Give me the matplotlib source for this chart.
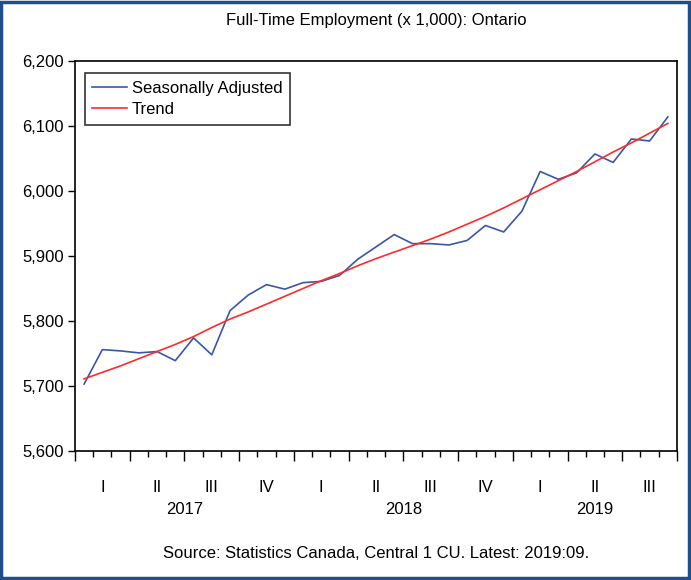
import numpy as np
import matplotlib
matplotlib.use("Agg")
import matplotlib.pyplot as plt
from matplotlib.patches import Rectangle
import matplotlib.transforms as mtransforms

plt.rcParams['font.family'] = ['Liberation Sans', 'DejaVu Sans']

# monthly data, Jan 2017 .. Sep 2019
seasonally_adjusted = [5703, 5756, 5754, 5751, 5753, 5739, 5774, 5748, 5816, 5840,
                       5856, 5849, 5859, 5861, 5870, 5895, 5914, 5933, 5919, 5919,
                       5917, 5924, 5947, 5937, 5969, 6030, 6018, 6028, 6057, 6044,
                       6080, 6077, 6114]
trend = [5711, 5721, 5731, 5742, 5753, 5764, 5776, 5790, 5803, 5814,
         5826, 5838, 5850, 5862, 5873, 5885, 5896, 5906, 5916, 5926,
         5937, 5949, 5961, 5974, 5988, 6002, 6016, 6030, 6045, 6060,
         6074, 6089, 6104]
quarter_labels = ['I', 'II', 'III', 'IV', 'I', 'II', 'III', 'IV', 'I', 'II', 'III']
years = ['2017', '2018', '2019']
months_per_year = [12, 12, 9]

x = np.arange(len(seasonally_adjusted))

fig = plt.figure(figsize=(6.91, 5.80), dpi=100)
ax = fig.add_axes([0.1085, 0.2224, 0.8712, 0.6724])

ax.plot(x, seasonally_adjusted, color='#3a56a8', lw=1.2, label='Seasonally Adjusted')
ax.plot(x, trend, color='#ff2a2a', lw=1.2, label='Trend')

ax.set_xlim(-0.5, len(x) - 0.5)
ax.set_ylim(5600, 6200)
ax.set_yticks(np.arange(5600, 6201, 100))
ax.set_yticklabels([f'{v:,}' for v in range(5600, 6201, 100)], fontsize=12)

ax.set_xticks(np.arange(-0.5, len(x), 3))
ax.set_xticks(np.arange(-0.5, len(x), 1), minor=True)
ax.set_xticklabels([])
ax.tick_params(axis='x', which='major', length=7, width=1, direction='out')
ax.tick_params(axis='x', which='minor', length=4, width=1, direction='out')
ax.tick_params(axis='y', length=5, width=1, direction='out', pad=3)
for s in ax.spines.values():
    s.set_linewidth(1.2)

trans = mtransforms.blended_transform_factory(ax.transData, fig.transFigure)
for i, q in enumerate(quarter_labels):
    ax.text(i * 3 + 1, 1 - 488 / 580, q, transform=trans, ha='center', va='center',
            fontsize=12)
start = 0
for yr, n in zip(years, months_per_year):
    ax.text(start + (n - 1) / 2, 1 - 509 / 580, yr, transform=trans, ha='center',
            va='center', fontsize=12)
    start += n

leg = ax.legend(loc='upper left', bbox_to_anchor=(0.016, 0.969), borderaxespad=0,
                fontsize=12, fancybox=False, framealpha=1, edgecolor='#333333',
                handlelength=2.1, borderpad=0.45, labelspacing=0.4, handletextpad=0.3)
leg.get_frame().set_linewidth(1.2)

fig.text(376 / 691, 1 - 20 / 580, 'Full-Time Employment (x 1,000): Ontario',
         ha='center', va='center', fontsize=12)
fig.text(376 / 691, 1 - 553 / 580, 'Source: Statistics Canada, Central 1 CU. Latest: 2019:09.',
         ha='center', va='center', fontsize=12)

fig.patches.append(Rectangle((0.002, 0.003), 0.995, 0.994, transform=fig.transFigure,
                             fill=False, edgecolor='#1f4e8c', lw=2.5))

fig.savefig('out.png', dpi=100)
